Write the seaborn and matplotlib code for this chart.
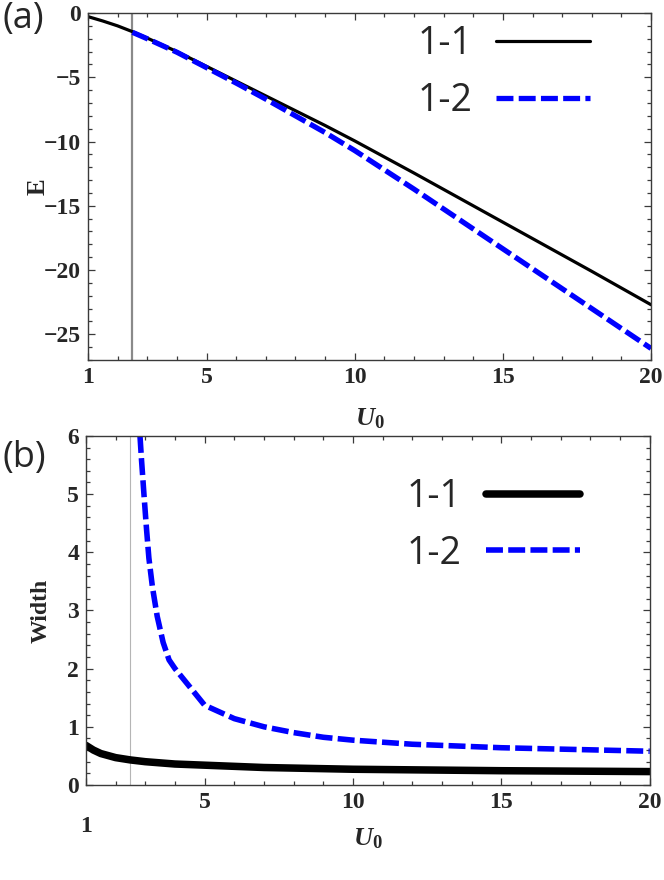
import numpy as np
import pandas as pd
import seaborn as sns
import matplotlib.pyplot as plt
from matplotlib.ticker import MultipleLocator, FixedLocator

sns.set_style("ticks")
plt.rcParams['font.family'] = ['Liberation Serif', 'DejaVu Serif']
plt.rcParams['mathtext.fontset'] = 'custom'
plt.rcParams['mathtext.it'] = 'Liberation Serif:italic:bold'
plt.rcParams['mathtext.bf'] = 'Liberation Serif:bold'
plt.rcParams['lines.scale_dashes'] = False

# panel (a): energy E vs U0
u_e11 = [1, 1.5, 2, 2.5, 3, 4, 5, 6, 7, 8, 9, 10, 12, 14, 16, 18, 20]
e_11 = [-0.28, -0.62, -1.0, -1.45, -1.95, -3.0, -4.15, -5.3, -6.45, -7.6, -8.75,
        -9.95, -12.45, -15.0, -17.55, -20.1, -22.7]
u_e12 = [2.5, 3, 4, 5, 6, 7, 8, 9, 10, 12, 14, 16, 18, 20]
e_12 = [-1.5, -2.0, -3.05, -4.25, -5.45, -6.7, -8.0, -9.3, -10.7, -13.7, -16.8,
        -19.9, -23.0, -26.1]

# panel (b): width vs U0
u_w11 = [1, 1.25, 1.5, 2, 2.5, 3, 4, 5, 7, 10, 15, 20]
w_11 = [0.68, 0.6, 0.54, 0.47, 0.43, 0.40, 0.36, 0.34, 0.30, 0.27, 0.245, 0.23]
u_w12 = [2.82, 2.87, 2.96, 3.04, 3.12, 3.24, 3.4, 3.6, 3.8, 4, 5, 6, 7, 8, 9, 10,
         12, 15, 20]
w_12 = [6.0, 5.6, 4.95, 4.4, 3.9, 3.4, 2.9, 2.45, 2.15, 2.0, 1.37, 1.14, 1.0, 0.9,
        0.82, 0.77, 0.70, 0.64, 0.58]

u_cut_a = 2.5
u_cut_b = 2.48
xticks = [1, 5, 10, 15, 20]

fig = plt.figure(figsize=(6.64, 8.80), dpi=100)
ax1 = fig.add_axes([0.1325, 0.5909, 0.848, 0.3943])
ax2 = fig.add_axes([0.1295, 0.108, 0.849, 0.3966])

dash = (0, (12.2, 3.8))
sans = ['Open Sans', 'DejaVu Sans']

# (a)
ax1.axvline(u_cut_a, color='#8a8a8a', lw=1.6, zorder=1)
sns.lineplot(data=pd.DataFrame({'U0': u_e11, 'E': e_11}), x='U0', y='E', ax=ax1,
             color='black', lw=2.3, label='1-1')
sns.lineplot(data=pd.DataFrame({'U0': u_e12, 'E': e_12}), x='U0', y='E', ax=ax1,
             color='#0000ff', lw=3.8, linestyle=dash, label='1-2')
ax1.set_ylim(-27, 0)
ax1.yaxis.set_major_locator(MultipleLocator(5))
ax1.yaxis.set_minor_locator(MultipleLocator(1))

# (b)
ax2.axvline(u_cut_b, color='#b5b5b5', lw=0.8, zorder=1)
sns.lineplot(data=pd.DataFrame({'U0': u_w11, 'W': w_11}), x='U0', y='W', ax=ax2,
             color='black', lw=5.4, label='1-1')
sns.lineplot(data=pd.DataFrame({'U0': u_w12, 'W': w_12}), x='U0', y='W', ax=ax2,
             color='#0000ff', lw=4.0, linestyle=dash, label='1-2')
ax2.set_ylim(0, 6)
ax2.yaxis.set_major_locator(MultipleLocator(1))
ax2.yaxis.set_minor_locator(MultipleLocator(0.2))

for ax in (ax1, ax2):
    ax.set_xlim(1, 20)
    ax.xaxis.set_major_locator(FixedLocator(xticks))
    ax.xaxis.set_minor_locator(MultipleLocator(1))
    for s in ax.spines.values():
        s.set_visible(True)
        s.set_color('#3a3a3a')
        s.set_linewidth(1.0)
    ax.tick_params(which='both', direction='in', top=True, right=True,
                   color='#3a3a3a', width=0.9, labelsize=17, pad=5)
    ax.tick_params(which='major', length=5)
    ax.tick_params(which='minor', length=3)
    for lab in ax.get_xticklabels() + ax.get_yticklabels():
        lab.set_fontweight('bold')
    ax.set_xlabel(r'$\mathit{U}_{\mathbf{0}}$', fontsize=19)

ax2.set_xticks(xticks)
ax2.set_xticklabels(['\n1', '5', '10', '15', '20'], fontweight='bold')

ax1.set_ylabel('E', fontsize=18, fontweight='bold')
ax2.set_ylabel('Width', fontsize=17, fontweight='bold')
ax1.yaxis.set_label_coords(-0.068, 0.5)
ax2.yaxis.set_label_coords(-0.060, 0.5)
ax1.xaxis.set_label_coords(0.5, -0.135)
ax2.xaxis.set_label_coords(0.5, -0.12)

leg_kw = dict(loc='upper right', frameon=False, markerfirst=False,
              prop={'family': sans, 'size': 27}, handlelength=2.5,
              handletextpad=0.65, labelspacing=0.5, borderaxespad=0, borderpad=0)
ax1.legend(bbox_to_anchor=(0.892, 0.965), **leg_kw)
ax2.legend(bbox_to_anchor=(0.876, 0.88), **leg_kw)

fig.text(0.004, 0.999, '(a)', family=sans, fontsize=26, va='top', ha='left')
fig.text(0.004, 0.500, '(b)', family=sans, fontsize=26, va='top', ha='left')

fig.savefig('out.png', dpi=100)
